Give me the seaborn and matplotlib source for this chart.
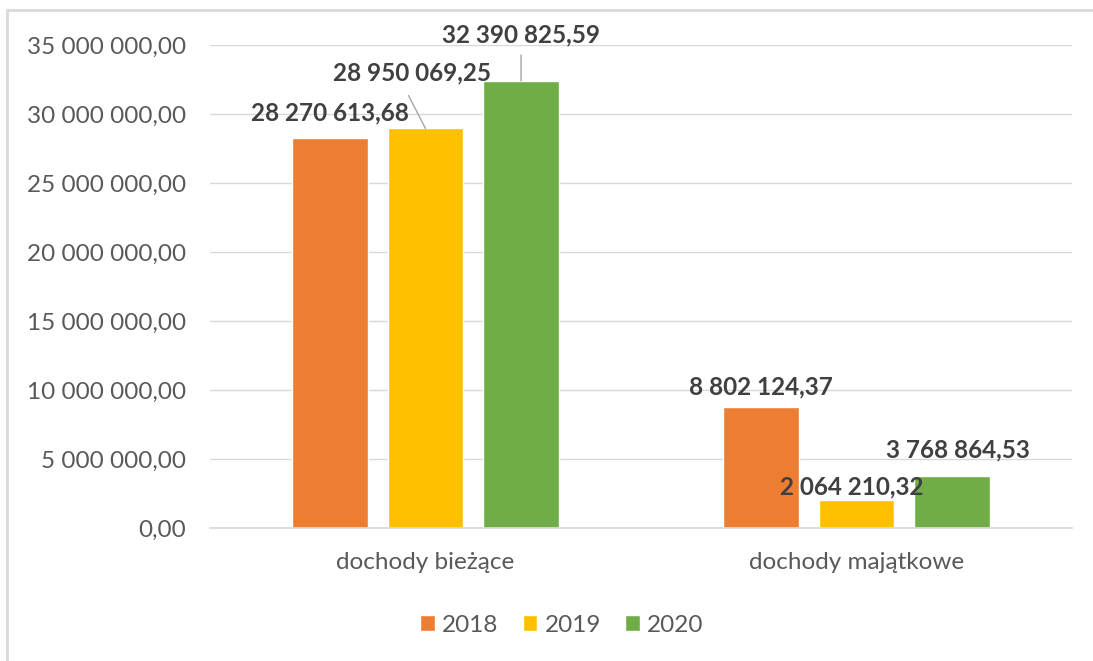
import matplotlib
matplotlib.use("Agg")
import matplotlib.pyplot as plt
from matplotlib.lines import Line2D
from matplotlib.ticker import FuncFormatter
import pandas as pd
import seaborn as sns

categories = ["dochody bieżące", "dochody majątkowe"]
years = ["2018", "2019", "2020"]
values_2018 = [28270613.68, 8802124.37]
values_2019 = [28950069.25, 2064210.32]
values_2020 = [32390825.59, 3768864.53]
colors = ["#ED7D31", "#FFC000", "#70AD47"]


def pl_format(v, decimals=2):
    s = f"{v:,.{decimals}f}"
    return s.replace(",", " ").replace(".", ",")


rows = []
for year, vals in zip(years, [values_2018, values_2019, values_2020]):
    for cat, v in zip(categories, vals):
        rows.append({"kategoria": cat, "rok": year, "wartosc": v})
df = pd.DataFrame(rows)

sns.set_theme(style="white")
plt.rcParams["font.family"] = ["Lato", "DejaVu Sans"]

W, H = 1093, 661
fig = plt.figure(figsize=(W / 100, H / 100), dpi=100)
ax = fig.add_axes([210 / W, (H - 528) / H, (1072 - 210) / W, (528 - 45) / H])

sns.barplot(data=df, x="kategoria", y="wartosc", hue="rok", hue_order=years,
            order=categories, palette=colors, width=0.665, gap=0.21,
            saturation=1, ax=ax, legend=True)

ax.set_ylim(0, 35000000)
ax.set_yticks(range(0, 35000001, 5000000))
ax.yaxis.set_major_formatter(FuncFormatter(lambda v, p: pl_format(v)))
ax.yaxis.grid(True, color="#D9D9D9", linewidth=1)
ax.set_axisbelow(True)
for side in ["top", "right", "left"]:
    ax.spines[side].set_visible(False)
ax.spines["bottom"].set_color("#D9D9D9")
ax.tick_params(axis="both", length=0, labelsize=17.5, colors="#595959")
ax.tick_params(axis="y", pad=17)
ax.tick_params(axis="x", pad=17)
ax.set_xlabel("")
ax.set_ylabel("")

# label offsets in pixels (dx, dy) from the top centre of each bar
offsets = {
    ("2018", 0): (0, 25), ("2019", 0): (-14, 56), ("2020", 0): (0, 46),
    ("2018", 1): (0, 20), ("2019", 1): (-5, 13), ("2020", 1): (6, 26),
}
leaders = {("2019", 0): (-17, 33), ("2020", 0): (0, 26)}

for year, cont in zip(years, ax.containers):
    for i, bar in enumerate(cont):
        x = bar.get_x() + bar.get_width() / 2
        y = bar.get_height()
        dx, dy = offsets[(year, i)]
        ax.annotate(pl_format(y), (x, y), xytext=(dx, dy), textcoords="offset pixels",
                    ha="center", va="center", fontsize=17.5, fontweight="bold",
                    color="#404040", annotation_clip=False)
        if (year, i) in leaders:
            lx, ly = leaders[(year, i)]
            ax.annotate("", (x, y), xytext=(lx, ly), textcoords="offset pixels",
                        arrowprops=dict(arrowstyle="-", color="#A6A6A6", lw=1,
                                        shrinkA=0, shrinkB=0),
                        annotation_clip=False)

handles, labels = ax.get_legend_handles_labels()
ax.legend(handles, labels, loc="center", bbox_to_anchor=(562 / W, (H - 625) / H),
          bbox_transform=fig.transFigure, ncol=3, frameon=False, fontsize=17.5,
          handlelength=0.6, handleheight=0.6, handletextpad=0.3, columnspacing=1.0,
          labelcolor="#595959")

# chart border (left and top edges visible in the screenshot)
fig.add_artist(Line2D([7 / W, 7 / W], [0, (H - 10) / H], transform=fig.transFigure,
                      color="#D9D9D9", linewidth=2))
fig.add_artist(Line2D([7 / W, 1], [(H - 10) / H, (H - 10) / H], transform=fig.transFigure,
                      color="#D9D9D9", linewidth=2))

fig.savefig("out.png", dpi=100)
